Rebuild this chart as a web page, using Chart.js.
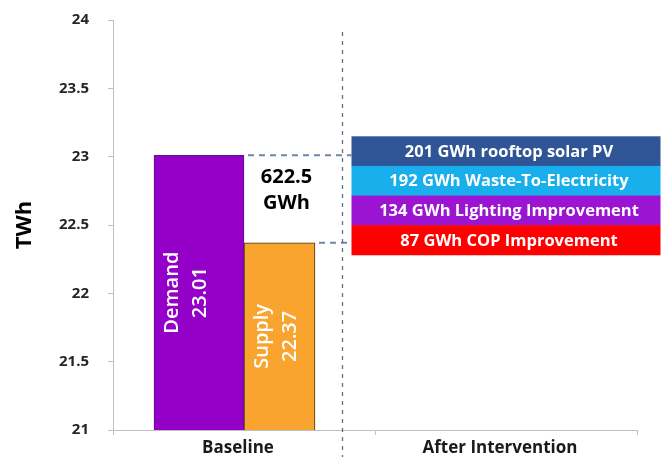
<!DOCTYPE html>
<html>
<head>
<meta charset="utf-8">
<script src="https://cdn.jsdelivr.net/npm/chart.js@4.4.1/dist/chart.umd.min.js"></script>
<style>
  html, body { margin: 0; padding: 0; background: #fff; }
  canvas { display: block; }
</style>
</head>
<body>
<canvas id="chart" width="663" height="460"></canvas>
<script>
// Electricity balance (TWh) before and after efficiency / generation measures
const categories = ['Baseline', 'After Intervention'];
const seriesNames = ['Demand', 'Supply'];
const demandTWh = [23.01, null];
const supplyTWh = [22.37, null];
const measureGWh = [201, 192, 134, 87];
const measureNames = ['rooftop solar PV', 'Waste-To-Electricity', 'Lighting Improvement', 'COP Improvement'];
const gapLines = ['622.5', 'GWh'];
const yTicks = [21, 21.5, 22, 22.5, 23, 23.5, 24];

const FONT = '"Open Sans", "DejaVu Sans", sans-serif';
const demandColor = '#9400C8';
const supplyColor = '#F9A42F';
const measureColors = ['#2F5597', '#19AFEC', '#9A14D2', '#FF0000'];

// Draws the in-bar labels, the gap guides and the stack of measure boxes
const annotations = {
  id: 'annotations',
  afterDatasetsDraw(chart) {
    const ctx = chart.ctx;
    const xs = chart.scales.x;
    const area = chart.chartArea;
    const demandBar = chart.getDatasetMeta(0).data[0];
    const supplyBar = chart.getDatasetMeta(1).data[0];

    // rotated labels inside the bars
    const inBar = [[demandBar, seriesNames[0], demandTWh[0]], [supplyBar, seriesNames[1], supplyTWh[0]]];
    inBar.forEach(([bar, name, v]) => {
      const left = bar.x - bar.width / 2;
      const cy = (bar.y + area.bottom) / 2;
      ctx.save();
      ctx.translate(left, cy);
      ctx.rotate(-Math.PI / 2);
      ctx.fillStyle = '#FFFFFF';
      ctx.font = '600 20px ' + FONT;
      ctx.textAlign = 'center';
      ctx.textBaseline = 'middle';
      ctx.fillText(name, 0, 18);
      ctx.fillText(v.toFixed(2), 0, 46);
      ctx.restore();
    });

    const cx = xs.getPixelForValue(1);
    const boxW = 309;
    const boxL = cx - boxW / 2;
    const top = demandBar.y - 19;
    const bottom = supplyBar.y + 12;
    const h = (bottom - top) / measureGWh.length;

    // horizontal guides from the bar tops
    ctx.save();
    ctx.strokeStyle = '#6F87A8';
    ctx.lineWidth = 2;
    ctx.setLineDash([6, 5]);
    [demandBar, supplyBar].forEach(bar => {
      ctx.beginPath();
      ctx.moveTo(bar.x + bar.width / 2 + 4, bar.y);
      ctx.lineTo(boxL, bar.y);
      ctx.stroke();
    });
    // vertical separator
    const sx = Math.round(boxL - 10) + 0.5;
    ctx.strokeStyle = '#5E6E86';
    ctx.lineWidth = 1.3;
    ctx.setLineDash([4, 5]);
    ctx.beginPath();
    ctx.moveTo(sx, area.top + 12);
    ctx.lineTo(sx, area.bottom + 27);
    ctx.stroke();
    ctx.restore();

    // stacked measure boxes
    ctx.save();
    ctx.textAlign = 'center';
    ctx.textBaseline = 'middle';
    ctx.font = 'bold 16.5px ' + FONT;
    measureGWh.forEach((g, i) => {
      const by = top + i * h;
      ctx.fillStyle = measureColors[i];
      ctx.fillRect(boxL, by, boxW, h + 0.5);
      ctx.fillStyle = '#FFFFFF';
      ctx.fillText(g + ' GWh ' + measureNames[i], cx + 3, by + h / 2 + 1);
    });
    ctx.restore();

    // gap between demand and supply
    ctx.save();
    ctx.fillStyle = '#000000';
    ctx.textAlign = 'center';
    ctx.textBaseline = 'middle';
    ctx.font = 'bold 20px ' + FONT;
    const mid = (demandBar.y + supplyBar.y) / 2;
    ctx.fillText(gapLines[0], supplyBar.x + 7, mid - 22);
    ctx.fillText(gapLines[1], supplyBar.x + 7, mid + 4);
    ctx.restore();
  }
};

new Chart(document.getElementById('chart'), {
  type: 'bar',
  data: {
    labels: categories,
    datasets: [
      {
        label: seriesNames[0],
        data: demandTWh,
        backgroundColor: demandColor,
        borderColor: '#5A167E',
        borderWidth: 1,
        barThickness: 90
      },
      {
        label: seriesNames[1],
        data: supplyTWh,
        backgroundColor: supplyColor,
        borderColor: '#4A3312',
        borderWidth: 1,
        barThickness: 71
      }
    ]
  },
  options: {
    responsive: false,
    devicePixelRatio: 1,
    animation: false,
    layout: { padding: { top: 20, right: 26, left: 0, bottom: 0 } },
    plugins: {
      legend: { display: false },
      tooltip: { enabled: false }
    },
    scales: {
      x: {
        afterFit: s => { s.height = 30; },
        border: { color: '#BFBFBF', width: 1 },
        grid: { drawOnChartArea: false, tickLength: 5, color: '#BFBFBF', offset: true },
        ticks: { font: { family: FONT, size: 17, weight: 'bold' }, color: '#1A1A1A', padding: 3, labelOffset: -6 }
      },
      y: {
        min: 21,
        max: 24,
        afterBuildTicks: s => { s.ticks = yTicks.map(v => ({ value: v })); },
        afterFit: s => { s.width = 113; s.paddingTop = 8; s.paddingBottom = 8; },
        border: { color: '#BFBFBF', width: 1 },
        grid: { drawOnChartArea: false, tickLength: 5, color: '#BFBFBF' },
        ticks: {
          font: { family: FONT, size: 15, weight: 'bold' },
          color: '#262626',
          padding: 19,
          callback: v => String(v)
        },
        title: {
          display: true,
          text: 'TWh',
          font: { family: FONT, size: 22, weight: 'bold' },
          color: '#000000',
          padding: { top: 12, bottom: 0 }
        }
      }
    }
  },
  plugins: [annotations]
});
</script>
</body>
</html>
